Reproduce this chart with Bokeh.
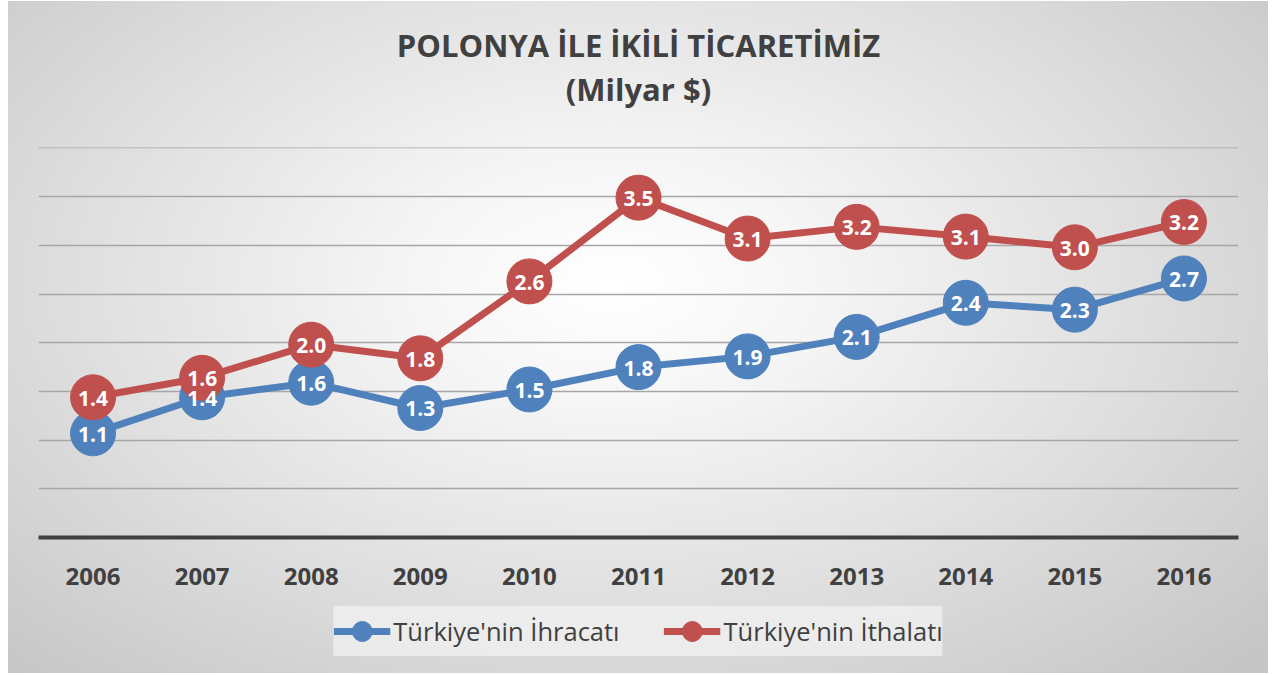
from bokeh.plotting import figure
from bokeh.layouts import column
from bokeh.models import (Range1d, FactorRange, SingleIntervalTicker, Title,
                          Legend, LegendItem, ColumnDataSource)
from bokeh.core.properties import value
from bokeh.embed import file_html
from bokeh.resources import INLINE

years = ["2006", "2007", "2008", "2009", "2010", "2011",
         "2012", "2013", "2014", "2015", "2016"]
ihracat = [1.07, 1.44, 1.59, 1.33, 1.52, 1.75, 1.86, 2.06, 2.41, 2.34, 2.66]
ihracat_labels = ["1.1", "1.4", "1.6", "1.3", "1.5", "1.8",
                  "1.9", "2.1", "2.4", "2.3", "2.7"]
ithalat = [1.44, 1.64, 1.98, 1.84, 2.63, 3.49, 3.07, 3.19, 3.09, 2.98, 3.24]
ithalat_labels = ["1.4", "1.6", "2.0", "1.8", "2.6", "3.5",
                  "3.1", "3.2", "3.1", "3.0", "3.2"]

series_names = ["Türkiye'nin İhracatı", "Türkiye'nin İthalatı"]
colors = ["#4f81bd", "#c0504d"]
FONT = "Open Sans"
TXT = "#404040"

p = figure(width=1260, height=600,
           x_range=FactorRange(*years), y_range=Range1d(0, 4.005),
           output_backend="svg", toolbar_location=None,
           min_border_left=30, min_border_right=30,
           min_border_top=146, min_border_bottom=64,
           border_fill_color=None, background_fill_color=None,
           outline_line_color=None)

# spacer between the title block and the plot area
p.add_layout(Title(text=" ", text_font_size="1px", standoff=35), "above")
p.add_layout(Title(text="(Milyar $)", align="center", text_font=FONT,
                   text_font_size="31px", text_font_style="bold",
                   text_color=TXT, standoff=0), "above")
p.add_layout(Title(text="POLONYA İLE İKİLİ TİCARETİMİZ", align="center",
                   text_font=FONT, text_font_size="31px",
                   text_font_style="bold", text_color=TXT, standoff=0), "above")

p.yaxis.visible = False
p.yaxis.ticker = SingleIntervalTicker(interval=0.5)
p.ygrid.grid_line_color = "#a6a6a6"
p.ygrid.grid_line_width = 1.5
p.xgrid.grid_line_color = None

p.xaxis.axis_line_color = TXT
p.xaxis.axis_line_width = 4
p.xaxis.major_tick_line_color = None
p.xaxis.minor_tick_line_color = None
p.xaxis.major_label_standoff = 24
p.xaxis.major_label_text_font = FONT
p.xaxis.major_label_text_font_size = "24px"
p.xaxis.major_label_text_font_style = "bold"
p.xaxis.major_label_text_color = TXT

for vals, col in [(ihracat, colors[0]), (ithalat, colors[1])]:
    src = ColumnDataSource(dict(x=years, y=vals))
    p.line("x", "y", source=src, line_color=col, line_width=7)
    p.scatter("x", "y", source=src, size=45, fill_color=col,
              line_color=col, marker="circle")

for vals, labs in [(ihracat, ihracat_labels), (ithalat, ithalat_labels)]:
    src = ColumnDataSource(dict(x=years, y=vals, t=labs))
    p.text("x", "y", text="t", source=src, text_color="white",
           text_font=value(FONT), text_font_size="21px",
           text_font_style="bold", text_align="center",
           text_baseline="middle", y_offset=1)

# legend strip: a second figure whose series lie outside its (empty) view,
# so that only the legend shows
lg = figure(width=1260, height=72, x_range=FactorRange(*years),
            y_range=Range1d(-10, -9),
            output_backend="svg", toolbar_location=None,
            x_axis_location=None, y_axis_location=None,
            min_border=0, border_fill_color=None, background_fill_color=None,
            outline_line_color=None)
lg.xgrid.grid_line_color = None
lg.ygrid.grid_line_color = None
items = []
for vals, col, name in zip([ihracat, ithalat], colors, series_names):
    src = ColumnDataSource(dict(x=years, y=vals))
    ln = lg.line("x", "y", source=src, line_color=col, line_width=7)
    mk = lg.scatter("x", "y", source=src, size=45, fill_color=col,
                    line_color=col, marker="circle")
    items.append(LegendItem(label=name, renderers=[ln, mk]))

legend = Legend(items=items, orientation="horizontal", location="top",
                glyph_width=57, glyph_height=50, label_standoff=3,
                spacing=44, padding=1, margin=5,
                background_fill_color="#f2f2f2", background_fill_alpha=0.75,
                border_line_color=None,
                label_text_font=FONT, label_text_font_size="25.5px",
                label_text_color=TXT)
lg.add_layout(legend, "center")

layout = column(p, lg, spacing=0)
layout.styles = {
    "margin-left": "8px",
    "margin-top": "1px",
    "background": "radial-gradient(ellipse 70% 80% at 48% 42%, #ffffff 0%, #f6f6f6 22%, #dedede 62%, #c6c6c6 100%)",
}

open("out.html", "w").write(file_html(layout, INLINE))
